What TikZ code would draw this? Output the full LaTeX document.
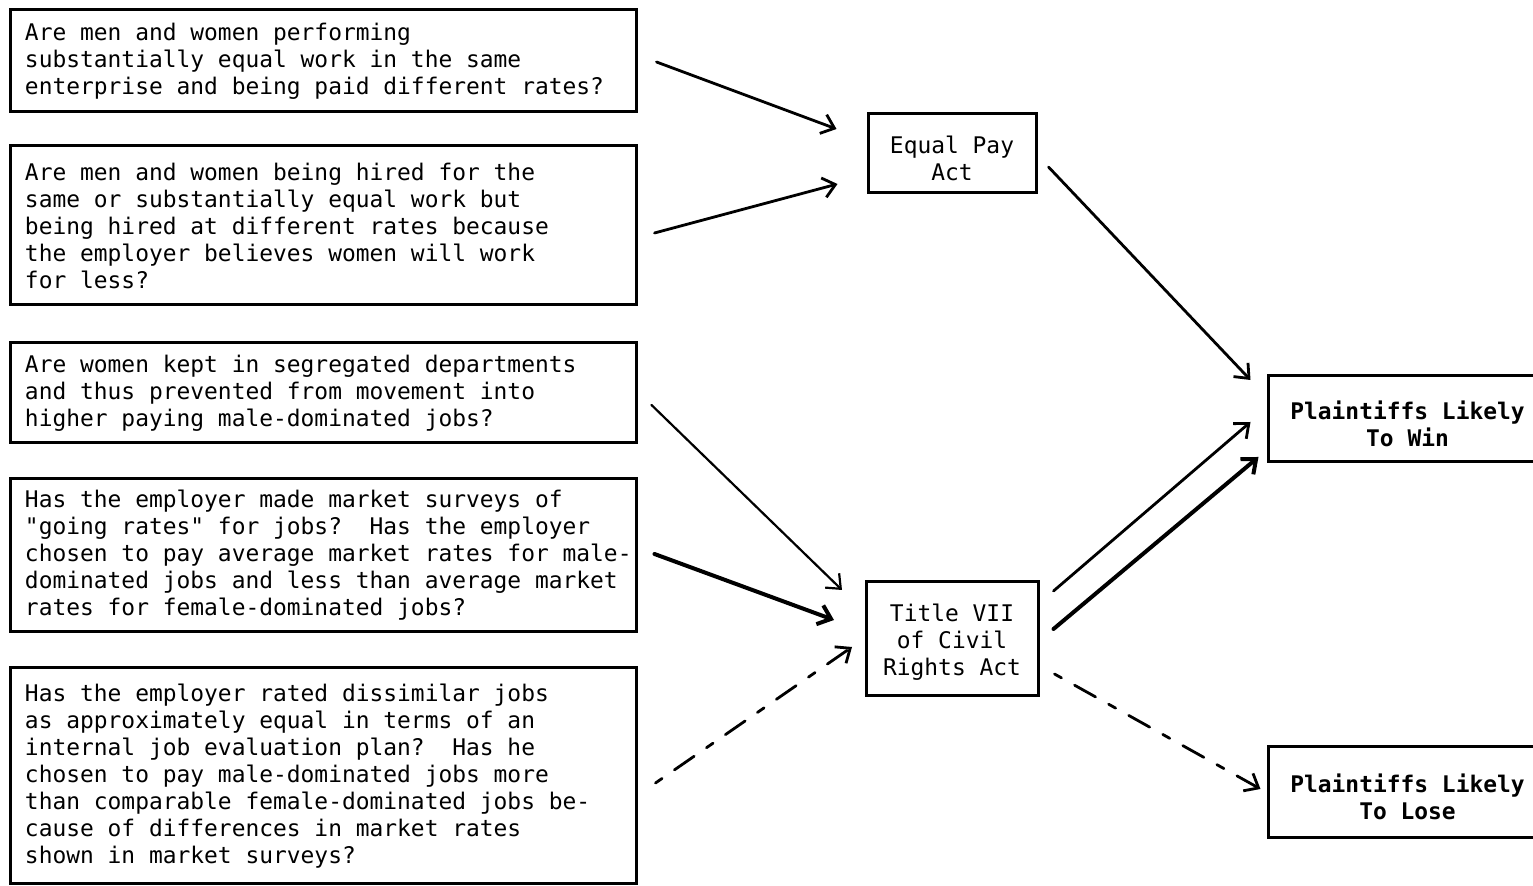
\documentclass[tikz,border=0pt]{standalone}
\usepackage{fontspec}
\setmonofont{DejaVu Sans Mono}
\usepackage{tikz}
\usetikzlibrary{calc}
\usetikzlibrary{arrows.meta}
\newcommand{\typewriterSpaces}{\spaceskip=\fontdimen2\font\xspaceskip=\fontdimen2\font\relax}
\tikzset{
    questionBox/.style={draw, line width=1.5pt, minimum width=313pt, text width=313pt, inner xsep=0pt, align=left,
        font=\ttfamily\fontsize{11.45}{13.5}\selectfont,
        execute at begin node={\leftskip=7.5pt\typewriterSpaces}},
    actBox/.style={draw, line width=1.5pt, inner xsep=0pt, text width=#1, minimum width=#1, align=center,
        font=\ttfamily\fontsize{11.45}{13.5}\selectfont},
    outcomeBox/.style={draw, line width=1.5pt, inner xsep=0pt, text width=139.5pt, minimum width=139.5pt, align=center,
        font=\ttfamily\bfseries\fontsize{11.45}{13.5}\selectfont},
    dropText/.style={execute at begin node={\typewriterSpaces\rule{0pt}{#1}}},
    leadsTo/.style={line width=1.4pt, line cap=round, -{Straight Barb[length=6pt,width=10pt]}},
    leadsStrongly/.style={leadsTo, line width=2pt},
    mightLead/.style={leadsTo, dash pattern=on 4pt off 7.5pt on 12pt off 7.5pt}
}

\begin{document}
\begin{tikzpicture}[x=0.5pt, y=-0.5pt]
        \useasboundingbox (0,0) rectangle (1533,886);
        \clip (0,0) rectangle (1533,886);

        \node[questionBox, minimum height=51pt]   (q1) at (323, 61)   {Are men and women performing\\substantially equal work in the same\\enterprise and being paid different rates?};
        \node[questionBox, minimum height=79.5pt] (q2) at (323,225.5) {Are men and women being hired for the\\same or substantially equal work but\\being hired at different rates because\\the employer believes women will work\\for less?};
        \node[questionBox, minimum height=50pt]   (q3) at (323,393)   {Are women kept in segregated departments\\and thus prevented from movement into\\higher paying male-dominated jobs?};
        \node[questionBox, minimum height=76.5pt] (q4) at (323,555.5) {Has the employer made market surveys of\\"going rates" for jobs?\ \ Has the employer\\chosen to pay average market rates for male-\\dominated jobs and less than average market\\rates for female-dominated jobs?};
        \node[questionBox, minimum height=108pt]  (q5) at (323,776)   {Has the employer rated dissimilar jobs\\as approximately equal in terms of an\\internal job evaluation plan?\ \ Has he\\chosen to pay male-dominated jobs more\\than comparable female-dominated jobs be-\\cause of differences in market rates\\shown in market surveys?};

        \node[actBox=84pt, dropText=13.7pt, minimum height=39.5pt] (equalPay) at (952,153.5) {Equal Pay\\Act};
        \node[actBox=86pt, dropText=12pt, minimum height=57pt]     (titleVII) at (952,639)   {Title VII\\of Civil\\Rights Act};

        \node[outcomeBox, dropText=13.7pt, minimum height=43pt]   (win)  at (1407.5,419)   {Plaintiffs Likely\\To Win};
        \node[outcomeBox, dropText=13.7pt, minimum height=45.5pt] (lose) at (1407.5,792.5) {Plaintiffs Likely\\To Lose};

        \draw[leadsTo]       ($(q1.east)+(19,1)$)          -- ($(equalPay.west)+(-30,-24.5)$);
        \draw[leadsTo]       ($(q2.east)+(17,7.5)$)        -- ($(equalPay.west)+(-29,30.5)$);
        \draw[leadsTo]       ($(equalPay.east)+(11,13.5)$) -- ($(win.west)+(-16,-39)$);

        \draw[leadsTo, line width=1.1pt] ($(q3.east)+(14,12)$) -- ($(titleVII.west)+(-22.5,-49)$);
        \draw[leadsStrongly] ($(q4.east)+(17,-1.5)$)       -- ($(titleVII.west)+(-30.5,-19)$);
        \draw[mightLead]     ($(q5.east)+(18,7)$)          -- ($(titleVII.west)+(-12.5,8)$);

        \draw[leadsTo]       ($(titleVII.east)+(14,-48)$)  -- ($(win.west)+(-16,3)$);
        \draw[leadsStrongly] ($(titleVII.east)+(14,-10)$)  -- ($(win.west)+(-8,38)$);
        \draw[mightLead]     ($(titleVII.east)+(15,35)$)   -- ($(lose.west)+(-6,-3.5)$);
    \end{tikzpicture}
\end{document}
